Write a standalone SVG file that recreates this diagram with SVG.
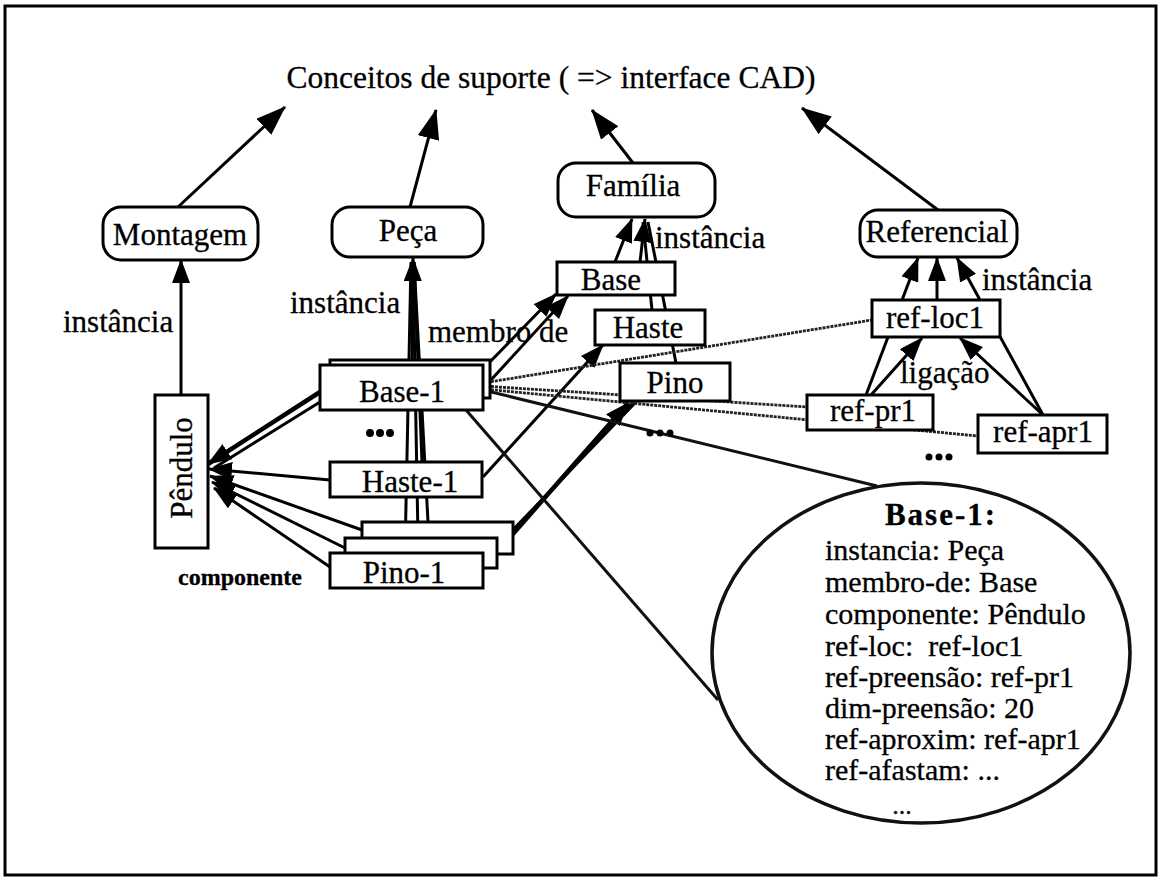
<svg xmlns="http://www.w3.org/2000/svg" width="1160" height="878" viewBox="0 0 1160 878">
  <defs>
    <style>
      .t { font-family: "Liberation Serif", "Times New Roman", serif; font-size: 31px; fill: #000; stroke: #000; stroke-width: 0.3; }
      .d { font-size: 30px; }
      .n { fill: #fff; stroke: #000; stroke-width: 3; }
      .c { stroke: #000; stroke-width: 3; fill: none; }
      .thick { stroke-width: 4.5; }
      .w { stroke: #222; stroke-width: 2.8; stroke-dasharray: 3 1; fill: none; }
      .call { stroke: #111; stroke-width: 3; fill: none; }
    </style>
    <marker id="big" viewBox="0 0 30 22" refX="29" refY="11" markerWidth="30" markerHeight="22" orient="auto" markerUnits="userSpaceOnUse">
      <path d="M0,0 L30,11 L0,22 z" fill="#000"/>
    </marker>
    <marker id="ah" viewBox="0 0 24 18" refX="23" refY="9" markerWidth="24" markerHeight="18" orient="auto" markerUnits="userSpaceOnUse">
      <path d="M0,0 L24,9 L0,18 z" fill="#000"/>
    </marker>
  </defs>

  <rect x="0" y="0" width="1160" height="878" fill="#fff"/>
  <!-- outer frame -->
  <rect x="5" y="6" width="1151" height="869" fill="none" stroke="#000" stroke-width="3"/>

  <!-- heading -->
  <text class="t" x="551" y="88" text-anchor="middle" style="font-size:31.5px">Conceitos de suporte ( =&gt; interface CAD)</text>

  <g id="connectors">
    <!-- concepts up to the heading -->
    <line class="c" x1="178" y1="207" x2="285" y2="107" marker-end="url(#big)"/>
    <line class="c" x1="410" y1="207" x2="436" y2="110" marker-end="url(#big)"/>
    <line class="c" x1="633" y1="163" x2="592" y2="110" marker-end="url(#big)"/>
    <line class="c" x1="938" y1="210" x2="802" y2="108" marker-end="url(#big)"/>

    <!-- instância: Pêndulo -> Montagem -->
    <line class="c" x1="181" y1="395" x2="181" y2="260" marker-end="url(#ah)"/>

    <!-- instância: parts -> Peça -->
    <line class="c" x1="405" y1="553" x2="411" y2="262"/>
    <line class="c" x1="418" y1="538" x2="413" y2="262"/>
    <line class="c" x1="428" y1="522" x2="414" y2="262"/>
    <line class="c" x1="422" y1="462" x2="414" y2="262"/>
    <line class="c" x1="412" y1="360" x2="413" y2="258" marker-end="url(#ah)"/>

    <!-- instância: members -> Família -->
    <line class="c" x1="676" y1="363" x2="648" y2="222"/>
    <line class="c" x1="652" y1="310" x2="643" y2="222"/>
    <line class="c" x1="615" y1="262" x2="632" y2="219" marker-end="url(#ah)"/>
    <line class="c" x1="640" y1="262" x2="645" y2="219" marker-end="url(#ah)"/>

    <!-- instância: frames -> Referencial -->
    <line class="c" x1="866" y1="395" x2="918" y2="258" marker-end="url(#ah)"/>
    <line class="c" x1="937" y1="300" x2="937" y2="258" marker-end="url(#ah)"/>
    <line class="c" x1="1043" y1="415" x2="957" y2="258" marker-end="url(#ah)"/>

    <!-- ligação -->
    <line class="c" x1="871" y1="395" x2="922" y2="338" marker-end="url(#ah)"/>
    <line class="c" x1="1043" y1="415" x2="960" y2="338" marker-end="url(#ah)"/>

    <!-- membro de -->
    <line class="c" x1="484" y1="368" x2="556" y2="294" marker-end="url(#ah)"/>
    <line class="c" x1="490" y1="381" x2="568" y2="296" marker-end="url(#ah)"/>
    <line class="c" x1="483" y1="477" x2="603" y2="345" marker-end="url(#ah)"/>
    <line class="c thick" x1="483" y1="568" x2="628" y2="403" marker-end="url(#ah)"/>
    <line class="c" x1="497" y1="550" x2="632" y2="403"/>
    <line class="c" x1="508" y1="535" x2="635" y2="403"/>

    <!-- componente -> Pêndulo -->
    <line class="c thick" x1="320" y1="392" x2="208" y2="464" marker-end="url(#ah)"/>
    <line class="c" x1="320" y1="402" x2="214" y2="468"/>
    <line class="c" x1="330" y1="480" x2="209" y2="469" marker-end="url(#ah)"/>
    <line class="c" x1="362" y1="530" x2="210" y2="476" marker-end="url(#ah)"/>
    <line class="c" x1="345" y1="548" x2="212" y2="482" marker-end="url(#ah)"/>
    <line class="c" x1="330" y1="567" x2="214" y2="488" marker-end="url(#ah)"/>

    <!-- reference frame links of Base-1 -->
    <line class="w" x1="483" y1="383" x2="872" y2="320"/>
    <line class="w" x1="483" y1="386" x2="807" y2="407"/>
    <line class="w" x1="483" y1="389" x2="978" y2="436"/>

    <!-- callout to the Base-1 detail -->
    <line class="call" x1="483" y1="390" x2="877" y2="486"/>
    <line class="call" x1="466" y1="410" x2="718" y2="700"/>
  </g>

  <!-- concept nodes -->
  <g id="montagem">
    <rect class="n" x="103" y="207" width="155" height="53" rx="18"/>
    <text class="t" x="180" y="245" text-anchor="middle">Montagem</text>
  </g>
  <g id="peca">
    <rect class="n" x="332" y="207" width="151" height="50" rx="18"/>
    <text class="t" x="408" y="241" text-anchor="middle">Peça</text>
  </g>
  <g id="familia">
    <rect class="n" x="558" y="163" width="157" height="54" rx="18"/>
    <text class="t" x="633" y="196" text-anchor="middle">Família</text>
  </g>
  <g id="referencial">
    <rect class="n" x="860" y="210" width="157" height="47" rx="18"/>
    <text class="t" x="937" y="242" text-anchor="middle">Referencial</text>
  </g>

  <!-- assembly and parts -->
  <g id="pendulo">
    <rect class="n" x="155" y="395" width="53" height="153"/>
    <text class="t" transform="translate(192 468) rotate(-90)" text-anchor="middle">Pêndulo</text>
  </g>
  <g id="base-1">
    <rect class="n" x="330" y="360" width="160" height="38"/>
    <rect class="n" x="320" y="365" width="163" height="45"/>
    <text class="t" x="402" y="402" text-anchor="middle">Base-1</text>
  </g>
  <g id="haste-1">
    <rect class="n" x="330" y="462" width="152" height="35"/>
    <text class="t" x="410" y="492" text-anchor="middle">Haste-1</text>
  </g>
  <g id="pino-1">
    <rect class="n" x="362" y="522" width="151" height="32"/>
    <rect class="n" x="345" y="538" width="152" height="30"/>
    <rect class="n" x="330" y="553" width="153" height="35"/>
    <text class="t" x="404" y="583" text-anchor="middle">Pino-1</text>
  </g>

  <!-- family members -->
  <g id="base">
    <rect class="n" x="557" y="262" width="118" height="33"/>
    <text class="t" x="611" y="290" text-anchor="middle">Base</text>
  </g>
  <g id="haste">
    <rect class="n" x="595" y="310" width="110" height="35"/>
    <text class="t" x="648" y="338" text-anchor="middle">Haste</text>
  </g>
  <g id="pino">
    <rect class="n" x="620" y="363" width="110" height="38"/>
    <text class="t" x="675" y="393" text-anchor="middle">Pino</text>
  </g>

  <!-- reference frames -->
  <g id="ref-loc1">
    <rect class="n" x="872" y="300" width="128" height="37"/>
    <text class="t" x="935" y="328" text-anchor="middle">ref-loc1</text>
  </g>
  <g id="ref-pr1">
    <rect class="n" x="807" y="395" width="126" height="35"/>
    <text class="t" x="873" y="421" text-anchor="middle">ref-pr1</text>
  </g>
  <g id="ref-apr1">
    <rect class="n" x="978" y="415" width="129" height="38"/>
    <text class="t" x="1043" y="442" text-anchor="middle">ref-apr1</text>
  </g>

  <!-- relation labels -->
  <g id="labels">
    <text class="t" x="63" y="332">instância</text>
    <text class="t" x="290" y="313">instância</text>
    <text class="t" x="655" y="248">instância</text>
    <text class="t" x="982" y="290">instância</text>
    <text class="t" x="428" y="342">membro de</text>
    <text class="t" x="900" y="383">ligação</text>
    <text class="t" x="178" y="585" style="font-size:24px;font-weight:bold">componente</text>
  </g>

  <!-- ellipsis dots -->
  <g id="more" fill="#000">
    <circle cx="370" cy="433" r="4"/><circle cx="380" cy="433" r="4"/><circle cx="390" cy="433" r="4"/>
    <circle cx="650" cy="433" r="3.5"/><circle cx="660" cy="433" r="3.5"/><circle cx="670" cy="433" r="3.5"/>
    <circle cx="929" cy="457" r="3.5"/><circle cx="939" cy="457" r="3.5"/><circle cx="949" cy="457" r="3.5"/>
  </g>

  <!-- detail of Base-1 -->
  <g id="base-1-detail">
    <ellipse cx="921" cy="653" rx="209" ry="170" fill="#fff" stroke="#111" stroke-width="3.5"/>
    <text class="t" x="941" y="525" text-anchor="middle" style="font-weight:bold;letter-spacing:2px">Base-1:</text>
    <text class="t d" x="825" y="560">instancia: Peça</text>
    <text class="t d" x="825" y="592">membro-de: Base</text>
    <text class="t d" x="825" y="624">componente: Pêndulo</text>
    <text class="t d" x="825" y="656" xml:space="preserve">ref-loc:  ref-loc1</text>
    <text class="t d" x="825" y="687">ref-preensão: ref-pr1</text>
    <text class="t d" x="825" y="718">dim-preensão: 20</text>
    <text class="t d" x="825" y="749">ref-aproxim: ref-apr1</text>
    <text class="t d" x="825" y="780">ref-afastam: ...</text>
    <text class="t d" x="902" y="814" text-anchor="middle" style="font-size:26px">...</text>
  </g>
</svg>
